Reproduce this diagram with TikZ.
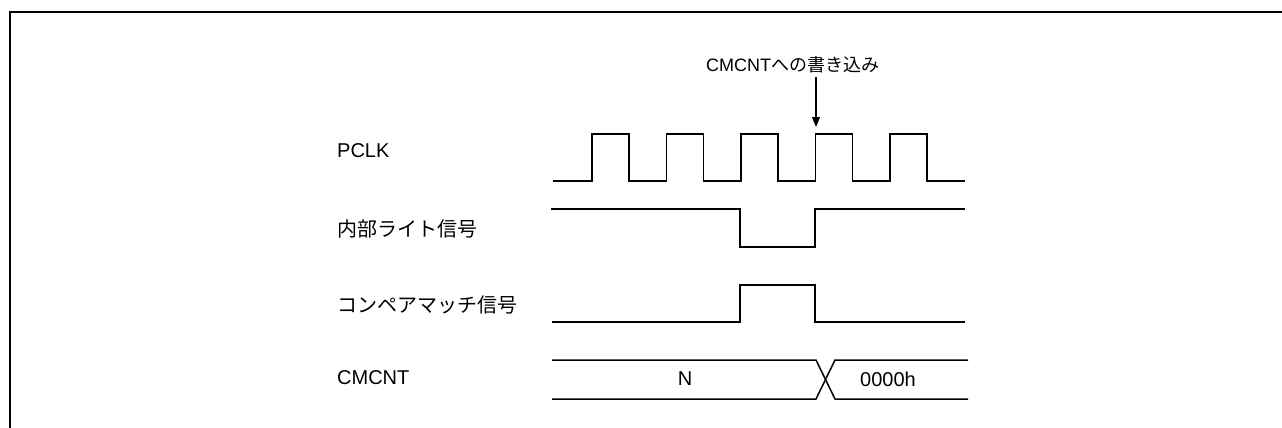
\documentclass[tikz,border=0pt]{standalone}
\usepackage{fontspec}
\setmainfont{Liberation Sans}
\newfontfamily\jpfont{Noto Sans CJK JP}
\usetikzlibrary{arrows.meta}

\begin{document}
\begin{tikzpicture}[x=1pt, y=-1pt,
    wave/.style={line width=1.5pt, line join=miter},
    lbl/.style={anchor=west, inner sep=0pt, font=\fontsize{20}{24}\selectfont},
    bustext/.style={inner sep=0pt, font=\fontsize{20}{24}\selectfont}]
        \useasboundingbox (0,0) rectangle (1282,428);
        % frame
        \draw[line width=2.6pt] (10,428) -- (10,12) -- (1282,12);
        % signal names
        \node[lbl] (pclk) at (337,151) {PCLK};
        \node[lbl] (wrsig) at (337,229) {\jpfont 内部ライト信号};
        \node[lbl] (cmsig) at (337,305) {\jpfont コンペアマッチ信号};
        \node[lbl] (cnt) at (337,378) {CMCNT};
        % PCLK
        \draw[wave] (553,181) foreach \r in {592,666.5,741,815.5,890}{%
            -- (\r,181) |- (\r+37,134) |- (\r+74.5,181)};
        % internal write
        \draw[wave] (551,209) -| (740,247) -| (815,209) -- (965,209);
        % compare match
        \draw[wave] (552,322) -| (740,285) -| (815,322) -- (965,322);
        % CMCNT bus
        \draw[wave] (552,360) -- (816,360) -- (835,399) -- (968,399);
        \draw[wave] (552,399) -- (816,399) -- (835,360) -- (968,360);
        \node[bustext] (valn) at (685,379) {N};
        \node[bustext] (val0) at (888,379) {0000h};
        % write to CMCNT
        \node[anchor=west, inner sep=3pt, font=\fontsize{18}{22}\selectfont] (wnote) at (703,65) {CMCNT\jpfont への書き込み};
        \coordinate (wtip) at (816,127);
        \draw[line width=1.2pt, -{Triangle[length=10pt,width=8pt]}] (wnote.south -| wtip) -- (wtip);
\end{tikzpicture}
\end{document}
